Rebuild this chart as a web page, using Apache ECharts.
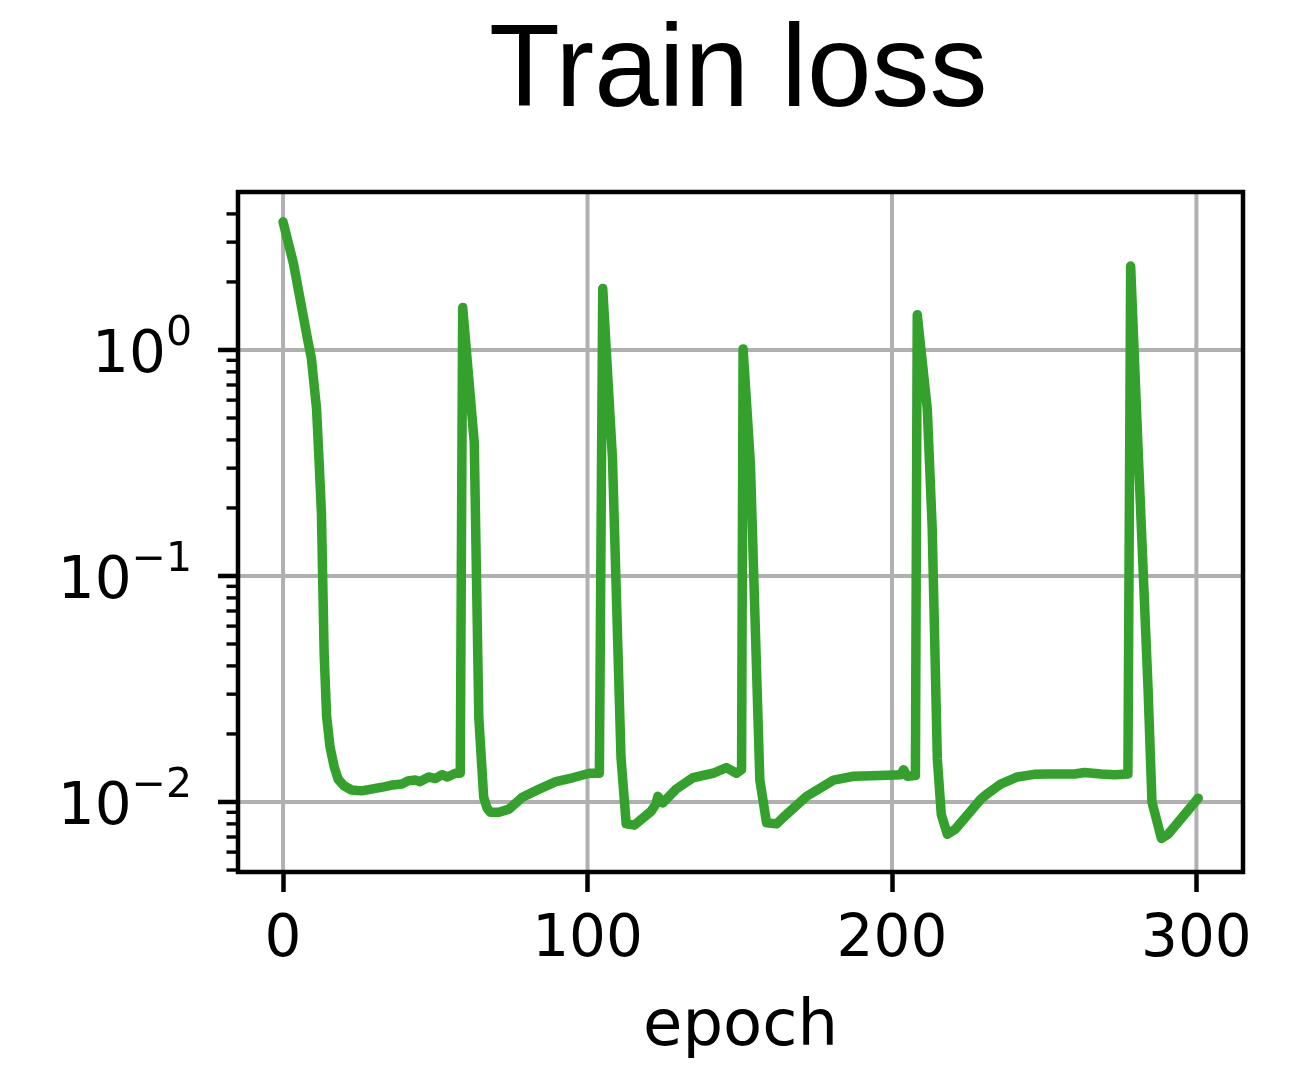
<!DOCTYPE html>
<html>
<head>
<meta charset="utf-8">
<script src="https://cdn.jsdelivr.net/npm/echarts@6/dist/echarts.min.js"></script>
<style>
html,body{margin:0;padding:0;background:#fff;}
#chart{width:1301px;height:1065px;}
</style>
</head>
<body>
<div id="chart"></div>
<script>
// ---- data ----
const TITLE = 'Train loss';
const X_NAME = 'epoch';
const EPOCHS = [
  0, 3.4, 8.2, 9.3, 11.0, 11.8, 12.6, 13.5, 14.3, 15.4, 16.8, 18.1, 20.0, 22.5, 25.8, 29, 33.5, 36, 39, 41, 43.4, 45, 47.8, 50, 52.2, 54, 56.6, 58.2,
  59.0, 62.8, 64.3, 65.9, 67.0, 68.1, 70.9, 74.2, 78.6, 84.1, 89.6, 95.1, 100.6, 103.9,
  105.0, 108.2, 111.0, 112.7, 115.4, 120.9, 122.5, 123.1, 124.7, 129.1, 134.6, 141.2, 145.6, 148.9, 150.6,
  151.1, 153.5, 156.6, 158.8, 162.1, 164.3, 172.0, 180.8, 187.4, 196, 203.0, 203.8, 205.0, 207.7,
  208.3, 211.6, 213.2, 214.9, 216.2, 218.2, 220.9, 229.2, 231.4, 235.7, 241.2, 246.7, 251.1, 260, 263.2, 268.7, 273.1, 277.5,
  278.4, 281.0, 284.1, 285.4, 288.5, 290.7, 300.6
];
const LOSS = [
  3.69, 2.42, 1.09, 0.92, 0.55, 0.33, 0.19, 0.045, 0.024, 0.0176, 0.0143, 0.0126, 0.0118, 0.0113, 0.0112, 0.0114, 0.0117, 0.0119, 0.0120, 0.0124, 0.0125, 0.0123, 0.0129, 0.0127, 0.0132, 0.0129, 0.0134, 0.0134,
  1.54, 0.39, 0.0235, 0.0105, 0.0094, 0.0090, 0.0090, 0.0093, 0.0105, 0.0114, 0.0123, 0.0128, 0.0134, 0.0134,
  1.87, 0.33, 0.0157, 0.0080, 0.0079, 0.0091, 0.0098, 0.0106, 0.0099, 0.0114, 0.0128, 0.0134, 0.0142, 0.0134, 0.0139,
  1.01, 0.315, 0.0125, 0.0081, 0.0080, 0.00855, 0.0106, 0.0125, 0.0130, 0.0131, 0.0132, 0.0139, 0.0130, 0.0131,
  1.43, 0.548, 0.165, 0.0155, 0.0088, 0.0072, 0.0076, 0.0103, 0.0109, 0.0120, 0.0129, 0.01325, 0.0133, 0.0133, 0.0135, 0.0133, 0.0132, 0.0133,
  2.35, 0.324, 0.032, 0.0100, 0.0069, 0.0072, 0.0104
];
const X_TICKS = [0, 100, 200, 300];
const Y_MAJOR = [0.01, 0.1, 1];
const Y_MINOR = [0.005, 0.006, 0.007, 0.008, 0.009,
                 0.02, 0.03, 0.04, 0.05, 0.06, 0.07, 0.08, 0.09,
                 0.2, 0.3, 0.4, 0.5, 0.6, 0.7, 0.8, 0.9,
                 2, 3, 4];
const X_MIN = -14.8, X_MAX = 315.3;
const Y_MIN = 0.0049, Y_MAX = 5.0;

// ---- styles ----
const LINE_COLOR = '#34a12d';
const GRID_COLOR = '#b0b0b0';
const TICK_FONT = 'DejaVu Sans';

const chart = echarts.init(document.getElementById('chart'), null, {renderer: 'canvas'});

function yGridItem(params, api) {
  const v = api.value(1);
  const p0 = api.coord([X_MIN, v]);
  const p1 = api.coord([X_MAX, v]);
  return {type: 'line', shape: {x1: p0[0], y1: p0[1], x2: p1[0], y2: p1[1]},
          style: {stroke: GRID_COLOR, lineWidth: 4}};
}
function xGridItem(params, api) {
  const v = api.value(0);
  const p0 = api.coord([v, Y_MIN]);
  const p1 = api.coord([v, Y_MAX]);
  return {type: 'line', shape: {x1: p0[0], y1: p0[1], x2: p1[0], y2: p1[1]},
          style: {stroke: GRID_COLOR, lineWidth: 4}};
}
function tickMaker(len, w) {
  return function (params, api) {
    const v = api.value(1);
    const p = api.coord([X_MIN, v]);
    return {type: 'line', shape: {x1: p[0] - len, y1: p[1], x2: p[0], y2: p[1]},
            style: {stroke: '#000', lineWidth: w}};
  };
}

const option = {
  backgroundColor: '#fff',
  animation: false,
  title: {
    text: TITLE,
    left: 489,
    top: 16,
    padding: 0,
    textStyle: {fontFamily: 'Liberation Sans', fontSize: 116, fontWeight: 'normal', color: '#000'}
  },
  grid: {left: 238, right: 58, top: 192, bottom: 193, show: true, borderColor: '#000', borderWidth: 4.5, z: 10, containLabel: false},
  xAxis: {
    type: 'value', min: X_MIN, max: X_MAX,
    name: X_NAME, nameLocation: 'middle', nameGap: 124,
    nameTextStyle: {fontFamily: TICK_FONT, fontSize: 64, color: '#000'},
    axisLine: {show: false},
    axisTick: {show: true, customValues: X_TICKS, length: 20, lineStyle: {color: '#000', width: 4.5}},
    axisLabel: {customValues: X_TICKS, margin: 40, fontFamily: TICK_FONT, fontSize: 58, color: '#000'},
    splitLine: {show: false}
  },
  yAxis: {
    type: 'log', logBase: 10, min: Y_MIN, max: Y_MAX,
    axisLine: {show: false},
    axisTick: {show: false},
    splitLine: {show: false},
    minorTick: {show: false},
    axisLabel: {
      margin: 46,
      color: '#000',
      formatter: function (v) {
        const e = Math.log10(v);
        const r = Math.round(e);
        if (Math.abs(e - r) > 1e-6) return '';
        return '{b|10}{s|' + (r < 0 ? '\u2212' + (-r) : String(r)) + '}';
      },
      rich: {
        b: {fontFamily: TICK_FONT, fontSize: 58, lineHeight: 72, verticalAlign: 'bottom', color: '#000'},
        s: {fontFamily: TICK_FONT, fontSize: 41, lineHeight: 41, verticalAlign: 'top', color: '#000'}
      }
    }
  },
  series: [
    {type: 'custom', z: 1, silent: true, clip: false, renderItem: yGridItem,
     data: Y_MAJOR.map(v => [X_MIN, v])},
    {type: 'custom', z: 1, silent: true, clip: false, renderItem: xGridItem,
     data: X_TICKS.map(v => [v, Y_MIN])},
    {type: 'custom', z: 11, silent: true, clip: false, renderItem: tickMaker(20, 4.5),
     data: Y_MAJOR.map(v => [X_MIN, v])},
    {type: 'custom', z: 11, silent: true, clip: false, renderItem: tickMaker(11.5, 3.4),
     data: Y_MINOR.map(v => [X_MIN, v])},
    {
      type: 'line', z: 3,
      data: EPOCHS.map((e, i) => [e, LOSS[i]]),
      showSymbol: false, symbol: 'none', smooth: false,
      lineStyle: {color: LINE_COLOR, width: 9.5, cap: 'round', join: 'round'}
    }
  ]
};
chart.setOption(option);
</script>
</body>
</html>
